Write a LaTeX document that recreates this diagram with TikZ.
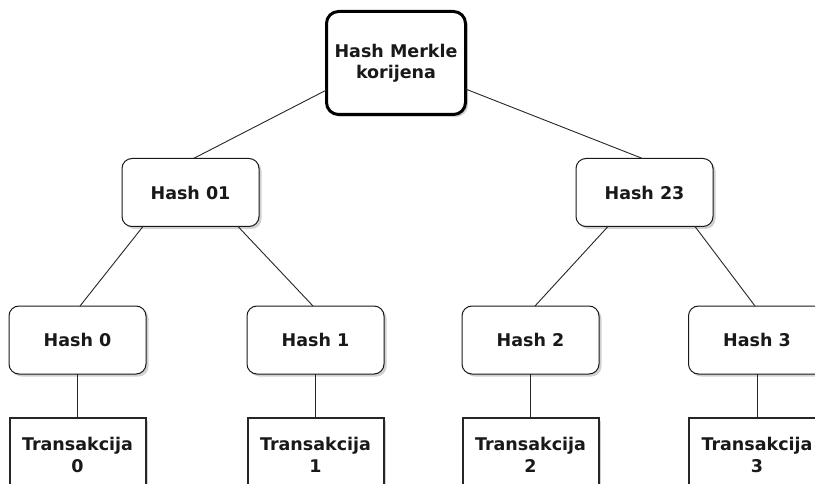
\documentclass[tikz,border=0pt]{standalone}
\usepackage{fontspec}
\setmainfont{DejaVu Sans}
\usetikzlibrary{shadows}
\begin{document}
\begin{tikzpicture}[x=1pt,y=-1pt,
  font=\fontsize{17.5}{22}\selectfont\bfseries,
  hashbox/.style={draw=black!90, line width=1pt, rounded corners=10pt, fill=white,
    minimum width=137pt, minimum height=68pt, inner sep=0pt, outer sep=0pt,
    align=center, text=black!90,
    drop shadow={shadow xshift=2.5pt, shadow yshift=-2.5pt, fill=black, opacity=0.18}},
  rootbox/.style={hashbox, line width=3pt, draw=black, minimum width=139pt, minimum height=103pt,
    rounded corners=12pt},
  txbox/.style={draw=black!85, line width=2pt, fill=white, minimum width=136pt, minimum height=74pt,
    inner sep=0pt, outer sep=0pt, align=center, text=black!90,
    drop shadow={shadow xshift=2.5pt, shadow yshift=-2.5pt, fill=black, opacity=0.18}},
  link/.style={draw=black!85, line width=0.9pt}]
\clip (0,0) rectangle (815,484);
\fill[white] (0,0) rectangle (815,484);

\node[rootbox] (root) at (396,63) {Hash Merkle\\[-1pt]korijena};
\node[hashbox] (h01) at (190.5,192.5) {Hash 01};
\node[hashbox] (h23) at (644.5,192.5) {Hash 23};
\node[hashbox] (h0) at (77.5,340) {Hash 0};
\node[hashbox] (h1) at (315.5,340) {Hash 1};
\node[hashbox] (h2) at (530.5,340) {Hash 2};
\node[hashbox] (h3) at (757,340) {Hash 3};
\node[txbox] (t0) at (77.5,455) {Transakcija\\0};
\node[txbox] (t1) at (315.5,455) {Transakcija\\1};
\node[txbox] (t2) at (530.5,455) {Transakcija\\2};
\node[txbox] (t3) at (757,455) {Transakcija\\3};

\draw[link] ([yshift=-27pt]root.west) -- ([xshift=3pt]h01.north);
\draw[link] ([yshift=-26pt]root.east) -- ([xshift=-2pt]h23.north);
\draw[link] ([xshift=-47.5pt]h01.south) -- ([xshift=2.5pt]h0.north);
\draw[link] ([xshift=47.5pt]h01.south) -- ([xshift=-2.5pt]h1.north);
\draw[link] ([xshift=-36.5pt]h23.south) -- ([xshift=4.5pt]h2.north);
\draw[link] ([xshift=50.5pt]h23.south) -- ([xshift=-2pt]h3.north);
\draw[link] (h0.south) -- (t0.north);
\draw[link] (h1.south) -- (t1.north);
\draw[link] (h2.south) -- (t2.north);
\draw[link] (h3.south) -- (t3.north);
\end{tikzpicture}
\end{document}
